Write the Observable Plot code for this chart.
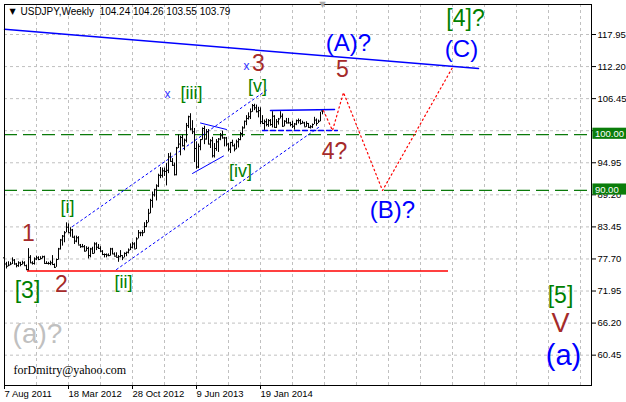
<!DOCTYPE html>
<html><head><meta charset="utf-8">
<script src="https://cdn.jsdelivr.net/npm/d3@7"></script>
<script src="https://cdn.jsdelivr.net/npm/@observablehq/plot@0.6"></script>
<style>html,body{margin:0;padding:0;background:#fff;} #chart svg{display:block}</style>
</head><body><div id="chart"></div>
<script>
// ---- data ----
const symbol = "USDJPY", timeframe = "Weekly";
const lastOHLC = [104.24, 104.26, 103.55, 103.79];
const xTickWeeks = [0, 32, 64, 96, 128];
const xTickLabels = ["7 Aug 2011", "18 Mar 2012", "28 Oct 2012", "9 Jun 2013", "19 Jan 2014"];
const gridWeeks = [16,32,48,64,80,96,112,128,144,160,176,192,208,224,240,256,272,288];
const yTicks = [117.95,112.20,106.45,100.70,94.95,89.20,83.45,77.70,71.95,66.20,60.45];
const levels = [100.00, 90.00];
const shiftMarkerWeek = [159];

const opens = [77.9,76.8,76.4,76.6,76.8,77.5,76.8,76.5,77.0,76.7,
77.0,76.5,75.8,78.0,77.0,76.9,77.7,77.9,77.6,77.8,
78.1,76.9,76.9,76.9,77.0,76.7,76.2,77.6,79.5,81.1,
81.8,82.4,83.4,82.4,82.9,81.6,80.9,81.5,80.2,79.9,
79.9,79.1,79.6,78.3,79.5,78.7,80.4,79.8,79.6,79.1,
78.5,78.5,78.4,78.3,79.5,78.6,78.2,78.0,78.1,78.3,
77.9,78.7,78.9,79.3,79.8,80.4,79.5,81.3,82.4,82.4,
82.4,83.5,84.2,85.9,88.2,89.2,90.1,90.8,92.7,92.7,
93.5,93.4,93.6,96.0,95.2,94.5,92.8,97.6,98.3,99.5,
98.0,99.0,101.6,103.2,101.0,100.5,97.5,94.2,97.9,99.1,
101.1,99.2,100.5,98.3,98.9,96.2,97.5,98.7,99.2,99.8,
99.4,99.4,98.3,97.4,98.6,98.0,97.4,98.7,99.1,100.2,
101.2,102.4,102.9,103.2,104.1,105.2,104.8,104.1,104.3,102.3,
102.0,102.3,101.8,102.5,101.8,103.3,101.3,102.3,102.8,103.3,
101.5,102.4,102.1,102.1,101.8,101.5,101.9,102.5,102.5,102.0,
102.1,101.4,102.0,101.3,101.4,101.8,102.6,102.0,102.4,104.24];
const highs = [78.1,77.1,77.2,77.1,77.9,77.6,76.9,77.2,77.1,77.3,
77.2,76.6,79.55,78.3,77.2,77.9,78.2,78.1,78.1,78.2,
78.2,77.2,77.1,77.3,78.3,76.8,77.7,79.6,81.2,81.9,
82.6,84.18,84.0,83.3,83.0,81.8,81.8,81.7,80.3,80.3,
80.1,79.9,79.8,79.6,79.8,80.6,80.6,80.3,79.9,79.2,
78.6,78.6,78.6,79.6,79.6,78.8,78.8,78.3,79.2,78.3,
78.8,78.9,79.5,80.4,80.7,80.6,81.5,82.8,82.5,82.8,
84.2,84.6,86.6,88.4,89.7,90.2,91.0,92.9,94.1,94.0,
94.0,94.8,96.6,96.7,95.7,94.9,97.7,99.95,99.7,99.9,
99.2,102.0,103.3,103.74,102.5,101.1,98.7,98.3,99.1,101.2,
101.5,100.9,100.9,99.1,99.5,98.4,99.1,99.3,100.2,100.6,
99.5,99.5,98.4,98.6,99.0,98.3,99.0,99.3,100.4,101.4,
102.4,103.4,103.9,104.6,105.4,105.44,105.3,104.9,104.8,103.4,
102.6,102.8,102.7,102.7,104.1,103.4,102.7,102.9,104.1,103.7,
102.5,102.9,102.9,102.2,102.4,102.0,102.6,102.8,102.7,102.4,
102.2,102.3,102.0,101.6,101.9,103.1,102.8,102.6,104.0,104.26];
const lows = [76.3,75.9,76.3,76.5,76.7,76.6,76.1,76.2,76.3,76.6,
76.5,75.6,75.56,76.9,76.6,76.6,77.4,77.4,77.5,77.7,
76.9,76.7,76.6,76.5,76.7,76.02,76.2,77.5,79.3,80.0,
80.6,82.4,82.3,81.6,81.5,80.3,80.6,80.2,79.6,79.7,
79.0,79.0,77.7,77.9,78.7,78.6,79.2,79.4,78.9,78.3,
77.9,77.9,78.1,78.2,78.5,78.2,78.0,77.1,77.9,77.4,
77.9,78.1,78.6,79.2,79.5,79.5,79.4,81.3,81.7,81.7,
82.3,83.3,84.2,85.8,86.8,88.8,88.1,90.5,92.1,92.2,
92.5,90.8,93.0,95.1,94.3,92.6,92.6,97.5,96.2,97.8,
97.1,98.5,101.1,100.7,100.0,94.98,93.79,93.9,97.1,99.0,
98.2,99.0,98.2,97.5,95.8,95.8,97.0,96.8,98.9,99.2,
97.8,97.8,96.9,96.6,97.8,96.9,97.3,97.6,98.9,99.5,
101.0,101.6,102.6,102.7,104.0,104.3,103.9,103.0,101.8,101.8,
100.76,101.4,101.3,101.5,101.2,101.2,101.1,101.7,102.8,101.3,
101.4,101.9,101.9,101.4,101.1,100.8,101.6,101.9,101.7,101.9,
101.4,101.3,101.1,101.0,101.1,101.8,101.5,102.0,102.3,103.55];
const closes = [76.8,76.4,76.6,76.8,77.5,76.8,76.5,77.0,76.7,77.0,
76.5,75.8,78.0,77.0,76.9,77.7,77.9,77.6,77.8,78.1,
76.9,76.9,76.9,77.0,76.7,76.2,77.6,79.5,81.1,81.8,
82.4,83.4,82.4,82.9,81.6,80.9,81.5,80.2,79.9,79.9,
79.1,79.6,78.3,79.5,78.7,80.4,79.8,79.6,79.1,78.5,
78.5,78.4,78.3,79.5,78.6,78.2,78.0,78.1,78.3,77.9,
78.7,78.9,79.3,79.8,80.4,79.5,81.3,82.4,82.4,82.4,
83.5,84.2,85.9,88.2,89.2,90.1,90.8,92.7,92.7,93.5,
93.4,93.6,96.0,95.2,94.5,92.8,97.6,98.3,99.5,98.0,
99.0,101.6,103.2,101.0,100.5,97.5,94.2,97.9,99.1,101.1,
99.2,100.5,98.3,98.9,96.2,97.5,98.7,99.2,99.8,99.4,
99.4,98.3,97.4,98.6,98.0,97.4,98.7,99.1,100.2,101.2,
102.4,102.9,103.2,104.1,105.2,104.8,104.1,104.3,102.3,102.0,
102.3,101.8,102.5,101.8,103.3,101.3,102.3,102.8,103.3,101.5,
102.4,102.1,102.1,101.8,101.5,101.9,102.5,102.5,102.0,102.1,
101.4,102.0,101.3,101.4,101.8,102.6,102.0,102.4,103.8,103.79];

// annotation lines: [week, price]
const trendA = [[0,118.90],[237,111.85]];
const triTop = [[133,104.32],[165,104.50]];
const triBottom = [[129,100.74],[166.5,100.74]];
const chanUpper = [[34,83.52],[131.5,108.09]];
const chanLower = [[56,75.81],[157,101.27]];
const wedgeUpper = [[98,102.08],[111,100.92]];
const wedgeLower = [[94,93.03],[109.5,96.16]];
const supportWeeks = [11.5, 222];
const supportPrice = 75.56;
const forecast = [[159.5,104.3],[164,100.74],[169.5,107.55],[189,89.98],[224,112.03]];

// wave labels: [text, week, price]
const brownLabels = [["1",12,82.27],["2",28.5,73.12],["3",127,112.75],["5",169,111.67],["4?",165,96.97]];
const romanV = [["V",278,66.13]];
const minorGreen = [["[i]",31.5,86.93],["[ii]",59.5,73.48],["[iii]",93.5,107.37],["[iv]",118,93.38],["[v]",126.5,108.63]];
const majorGreen = [["[3]",11.5,72.05],["[4]?",230.5,120.82],["[5]",278,71.15]];
const blueLabels = [["(A)?",172,116.34],["(B)?",194,86.39],["(C)",228.5,115.26]];
const blueSmallA = [["(a)",279.5,60.39]];
const grayLabels = [["(a)?",16.5,64.16]];
const xMarks = [["x",81.5,107.19],["x",121,112.21]];
const signature = [["forDmitry@yahoo.com",4.5,57.7]];

// ---- chart ----
const bars = highs.map((h, i) => ({i, o: opens[i], h, l: lows[i], c: closes[i]}));
const F = "Liberation Sans, Arial, sans-serif";
const P = d => d[0], Q = d => d[1];
const lbl = (arr, fill, size, extra = {}) => Plot.text(arr, {text: d => d[0], x: d => d[1], y: d => d[2], fill, fontSize: size, fontFamily: F, ...extra});

const chart = Plot.plot({
  width: 626, height: 402,
  marginLeft: 4, marginRight: 35, marginTop: 4, marginBottom: 17,
  x: {type: "linear", domain: [0, 293.5], axis: null, label: null},
  y: {type: "linear", domain: [55.01, 123.33], axis: null, label: null},
  style: {background: "white", fontFamily: F, color: "black", overflow: "visible"},
  marks: [
    Plot.ruleY(yTicks, {stroke: "#c0c0c0", strokeDasharray: "3,3"}),
    Plot.ruleX(gridWeeks, {stroke: "#c0c0c0", strokeDasharray: "3,3"}),
    Plot.ruleY(levels, {stroke: "#0b7a0b", strokeDasharray: "13,6", strokeWidth: 1.2}),
    Plot.ruleY([supportPrice], {x1: supportWeeks[0], x2: supportWeeks[1], stroke: "#ff0000", strokeWidth: 1.5}),
    Plot.line(trendA, {x: P, y: Q, stroke: "#0000ff", strokeWidth: 1.5}),
    Plot.line(triTop, {x: P, y: Q, stroke: "#0000ff", strokeWidth: 1.5}),
    Plot.line(triBottom, {x: P, y: Q, stroke: "#0000ff", strokeWidth: 1.3, strokeDasharray: "5,3"}),
    Plot.line(chanUpper, {x: P, y: Q, stroke: "#0000ff", strokeWidth: 1, strokeDasharray: "2,3"}),
    Plot.line(chanLower, {x: P, y: Q, stroke: "#0000ff", strokeWidth: 1, strokeDasharray: "2,3"}),
    Plot.line(wedgeUpper, {x: P, y: Q, stroke: "#0000ff", strokeWidth: 1}),
    Plot.line(wedgeLower, {x: P, y: Q, stroke: "#0000ff", strokeWidth: 1}),
    Plot.ruleX(bars, {x: "i", y1: "l", y2: "h", stroke: "black", strokeWidth: 1}),
    Plot.ruleY(bars, {y: "o", x1: d => d.i - 0.5, x2: "i", stroke: "black", strokeWidth: 1}),
    Plot.ruleY(bars, {y: "c", x1: "i", x2: d => d.i + 0.5, stroke: "black", strokeWidth: 1}),
    Plot.line(forecast, {x: P, y: Q, stroke: "#ff0000", strokeWidth: 1.2, strokeDasharray: "1.5,3"}),
    lbl(brownLabels, "#a52a2a", 23),
    lbl(romanV, "#a52a2a", 27),
    lbl(minorGreen, "#008000", 18),
    lbl(majorGreen, "#008000", 23),
    lbl(blueLabels, "#0000ff", 24),
    lbl(blueSmallA, "#0000ff", 29),
    lbl(grayLabels, "#c0c0c0", 28),
    lbl(xMarks, "#3030ff", 12),
    Plot.text(signature, {text: P, x: d => d[1], y: d => d[2], textAnchor: "start", fontFamily: "Liberation Serif, Times New Roman, serif", fontSize: 12, fill: "black"}),
    Plot.text([`${symbol},${timeframe}  ${lastOHLC.map(v => v.toFixed(2)).join(" ")}`], {frameAnchor: "top-left", textAnchor: "start", lineAnchor: "middle", dx: 16, dy: 7, fontSize: 10, fill: "black", fontFamily: F}),
    Plot.text(["▼"], {frameAnchor: "top-left", textAnchor: "start", lineAnchor: "middle", dx: 5, dy: 7, fontSize: 8, fill: "black", fontFamily: "DejaVu Sans"}),
    Plot.frame({stroke: "black"}),
    Plot.text(shiftMarkerWeek, {x: d => d, frameAnchor: "top", lineAnchor: "middle", dy: 0, text: () => "▼", fontSize: 8, fill: "#a8a8a8", fontFamily: "DejaVu Sans"}),
    Plot.axisY(yTicks, {anchor: "right", label: null, tickSize: 4, tickPadding: 2, tickFormat: d => d.toFixed(2), fontSize: 9.5, fontFamily: F}),
    Plot.rect(levels, {x1: 294.2, x2: 312, y1: d => d - 0.85, y2: d => d + 1.15, fill: "#0a7d0a"}),
    Plot.text(levels, {x: 294.2, y: d => d + 0.15, text: d => d.toFixed(2), textAnchor: "start", dx: 2, fill: "white", fontSize: 9.5, fontFamily: F}),
    Plot.axisX(xTickWeeks, {anchor: "bottom", label: null, tickSize: 4, tickPadding: 1, textAnchor: "start", tickFormat: d => xTickLabels[xTickWeeks.indexOf(d)], fontSize: 9.5, fontFamily: F})
  ]
});
document.getElementById("chart").appendChild(chart);
</script>
</body></html>
